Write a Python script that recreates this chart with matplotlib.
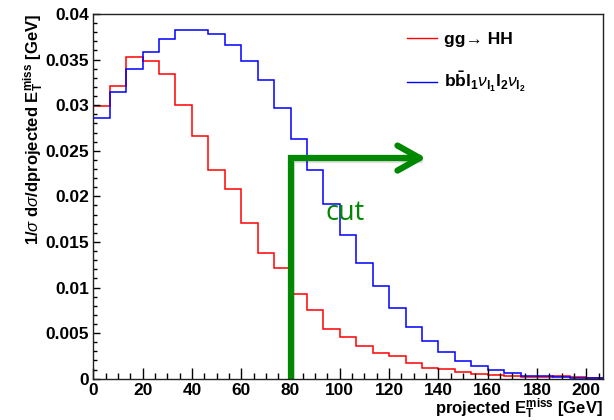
import numpy as np
import matplotlib
matplotlib.use("Agg")
import matplotlib.pyplot as plt
import matplotlib.patheffects as pe
from matplotlib.lines import Line2D
from matplotlib.ticker import MultipleLocator

plt.rcParams['font.family'] = ['Liberation Sans', 'DejaVu Sans']
plt.rcParams['mathtext.fontset'] = 'custom'
plt.rcParams['mathtext.rm'] = 'Liberation Sans'
plt.rcParams['mathtext.bf'] = 'Liberation Sans:bold'
plt.rcParams['mathtext.it'] = 'Liberation Sans:italic'

# binning: 31 bins of 200/30 GeV
n_bins = 31
bin_width = 200.0 / 30
edges = np.arange(n_bins + 1) * bin_width

# normalised projected MET distributions
sig_hh = [0.0299, 0.0321, 0.03525, 0.03481, 0.03338, 0.02998, 0.02665, 0.02285,
          0.0208, 0.01704, 0.01382, 0.01211, 0.00925, 0.00753, 0.00545, 0.00461,
          0.00359, 0.00279, 0.00252, 0.00169, 0.00117, 0.00106, 0.00077, 0.00052,
          0.00037, 0.0003, 0.00015, 0.00015, 0.0003, 0.00015, 0.00004]
bkg_bbll = [0.02856, 0.03148, 0.03393, 0.03587, 0.03722, 0.03824, 0.03821, 0.03777,
            0.0366, 0.03484, 0.03272, 0.02965, 0.02629, 0.02289, 0.01916, 0.01576,
            0.01266, 0.01017, 0.00779, 0.0057, 0.00413, 0.00296, 0.00197, 0.00136,
            0.00092, 0.00062, 0.0003, 0.00025, 0.00015, 0.0001, 0.00004]

# cut marker
cut_x = 80
cut_top = 0.0242
cut_arrow_end = 135

fig = plt.figure(figsize=(6.14, 4.20), dpi=100)
ax = fig.add_axes([0.152, 0.0983, 0.8296, 0.8684])

ax.stairs(sig_hh, edges, color='#ff0000', lw=1.1)
ax.stairs(bkg_bbll, edges, color='#0000ff', lw=1.1)

shadow = [pe.SimpleLineShadow(offset=(1.2, -1.2), alpha=0.12), pe.Normal()]
ax.plot([cut_x, cut_x, cut_arrow_end - 2], [0, cut_top, cut_top], color='#008800',
        lw=4.5, solid_joinstyle='miter', solid_capstyle='butt', path_effects=shadow)
ax.annotate('', xy=(cut_arrow_end, cut_top), xytext=(cut_arrow_end - 10, cut_top),
            arrowprops=dict(arrowstyle='->,head_length=0.8,head_width=0.45',
                            color='#008800', lw=4.5, mutation_scale=20,
                            shrinkA=0, shrinkB=0))
ax.text(102, 0.0182, 'cut', color='#008800', fontsize=19.5, family='Open Sans',
        ha='center', va='center')

ax.set_xlim(0, edges[-1])
ax.set_ylim(0, 0.04)

ax.xaxis.set_minor_locator(MultipleLocator(5))
ax.yaxis.set_minor_locator(MultipleLocator(0.001))
ax.set_xticks(np.arange(0, 201, 20))
ax.set_xticklabels([str(v) for v in range(0, 201, 20)])
ax.set_yticks(np.arange(0, 0.0401, 0.005))
ax.set_yticklabels(['0', '0.005', '0.01', '0.015', '0.02', '0.025', '0.03', '0.035', '0.04'])

ax.tick_params(axis='both', which='both', direction='in', top=False, right=False,
               labelsize=12.5, width=1)
ax.tick_params(axis='x', which='major', length=8, pad=3)
ax.tick_params(axis='x', which='minor', length=4)
ax.tick_params(axis='y', which='major', length=5, pad=3)
ax.tick_params(axis='y', which='minor', length=3)
for lab in ax.get_xticklabels() + ax.get_yticklabels():
    lab.set_fontweight('bold')
for sp in ax.spines.values():
    sp.set_linewidth(1)
    sp.set_color('#222222')

ax.set_xlabel(r'projected $\mathbf{E_{T}^{miss}}$ [GeV]', fontsize=12,
              fontweight='bold', loc='right', labelpad=-1)
ax.set_ylabel(r'1/$\sigma$ d$\sigma$/dprojected $\mathbf{E_{T}^{miss}}$ [GeV]', fontsize=12,
              fontweight='bold', loc='top', labelpad=0)

handles = [Line2D([], [], color='#ff0000', lw=1), Line2D([], [], color='#0000ff', lw=1)]
labels = ['gg\u2192 HH',
          r'$\mathbf{b\bar{b}l_{1}}\nu_{\mathbf{l_{1}}}\mathbf{l_{2}}\nu_{\mathbf{l_{2}}}$']
leg = ax.legend(handles, labels, loc='upper left', bbox_to_anchor=(0.585, 0.995),
                frameon=False, prop={'size': 12.5, 'weight': 'bold'},
                handlelength=1.75, handletextpad=0.4, labelspacing=1.35)

fig.savefig('out.png', dpi=100)
